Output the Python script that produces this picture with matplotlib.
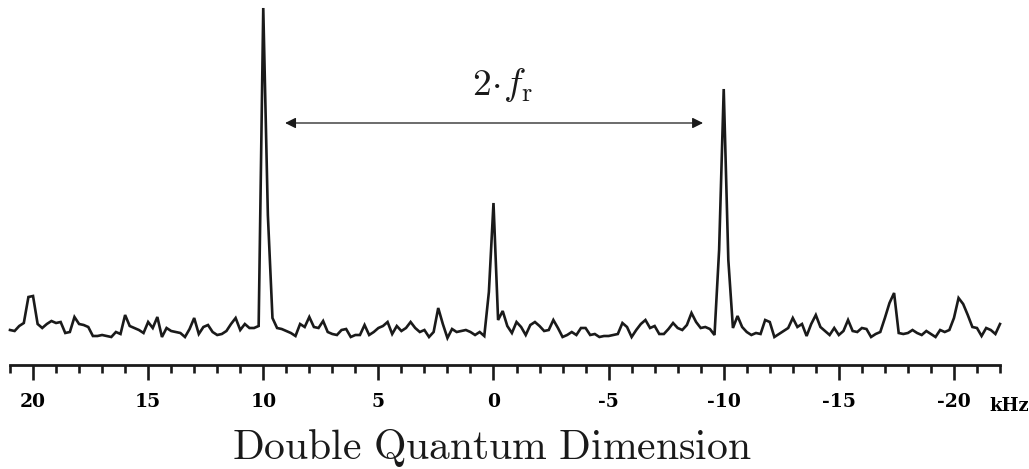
import numpy as np
import matplotlib
matplotlib.use("Agg")
import matplotlib.pyplot as plt
from matplotlib.ticker import MultipleLocator, FixedLocator, FixedFormatter

plt.rcParams['mathtext.fontset'] = 'cm'

# ---- data ----
freq_start = 21.0      # kHz
freq_step = 0.2        # kHz per point (descending)
intensity = [
    10, 9, 14, 17, 43, 44, 16, 12, 16, 19,
    17, 18, 7, 8, 23, 16, 15, 13, 4, 4,
    5, 4, 3, 8, 6, 25, 14, 12, 10, 7,
    18, 12, 23, 3, 12, 9, 8, 7, 3, 11,
    22, 6, 13, 15, 8, 5, 6, 9, 16, 22,
    10, 16, 12, 12, 14, 332, 125, 22, 12, 11,
    9, 7, 4, 16, 13, 23, 13, 12, 19, 8,
    6, 5, 10, 11, 3, 5, 5, 15, 5, 8,
    12, 14, 18, 6, 14, 9, 12, 18, 12, 8,
    10, 3, 8, 32, 16, 2, 11, 8, 9, 10,
    8, 5, 8, 4, 48, 137, 20, 29, 14, 7,
    18, 13, 5, 15, 18, 14, 9, 10, 20, 12,
    3, 5, 8, 5, 12, 12, 5, 6, 3, 4,
    4, 5, 6, 17, 13, 3, 10, 16, 20, 12,
    14, 6, 6, 11, 17, 12, 10, 15, 27, 18,
    12, 13, 11, 5, 90, 251, 80, 12, 24, 13,
    8, 5, 7, 6, 20, 18, 3, 6, 9, 12,
    22, 13, 16, 4, 16, 25, 13, 9, 5, 12,
    5, 9, 20, 9, 8, 12, 11, 3, 6, 8,
    22, 37, 47, 7, 6, 7, 10, 7, 5, 9,
    6, 3, 10, 8, 10, 22, 42, 36, 25, 13,
    12, 4, 12, 10, 6, 16,
]
major_ticks = [20, 15, 10, 5, 0, -5, -10, -15, -20]
major_labels = ['20', '15', '10', '5', '0', '-5', '-10', '-15', '-20']
unit_label = 'kHz'
axis_title = 'Double Quantum Dimension'
spacing_label = r'$2\!\cdot\! f_{\mathrm{r}}$'
arrow_from, arrow_to = 9.05, -9.1

freq = freq_start - freq_step * np.arange(len(intensity))

# ---- figure ----
W, H = 1029, 469
fig = plt.figure(figsize=(W / 100, H / 100), dpi=100)
ax = fig.add_axes([10 / W, (H - 365) / H, 990 / W, 365 / H])
ax.plot(freq, intensity, color='#1a1a1a', lw=1.9, solid_joinstyle='miter',
        clip_on=False)
ax.set_xlim(21, -22)
ax.set_ylim(-25, 340)

for s in ('left', 'right', 'top'):
    ax.spines[s].set_visible(False)
ax.spines['bottom'].set_linewidth(2.0)
ax.spines['bottom'].set_color('#1a1a1a')
ax.set_yticks([])

ax.xaxis.set_major_locator(FixedLocator(major_ticks))
ax.xaxis.set_major_formatter(FixedFormatter(major_labels))
ax.xaxis.set_minor_locator(MultipleLocator(1))
ax.tick_params(axis='x', which='major', direction='out', length=10.5, width=1.9,
               color='#1a1a1a', pad=10)
ax.tick_params(axis='x', which='minor', direction='out', length=5.5, width=1.9,
               color='#1a1a1a')
for lab in ax.get_xticklabels():
    lab.set_fontfamily('DejaVu Serif')
    lab.set_fontweight('bold')
    lab.set_fontsize(13.5)

fig.text(989 / W, (H - 411) / H, unit_label, family='DejaVu Serif',
         weight='bold', fontsize=13, ha='left', va='baseline')

fig.text(492 / W, (H - 459) / H, r'$\mathrm{Double\ Quantum\ Dimension}$',
         fontsize=30, ha='center', va='baseline', color='#1a1a1a')

ax.annotate('', xy=(arrow_to, 217), xytext=(arrow_from, 217),
            arrowprops=dict(arrowstyle='<|-|>', color='#1a1a1a', lw=0.9,
                            mutation_scale=16, shrinkA=0, shrinkB=0))
ax.text(-0.4, 245, spacing_label, fontsize=27, ha='center', va='baseline',
        color='#1a1a1a')

fig.savefig('out.png', dpi=100)
